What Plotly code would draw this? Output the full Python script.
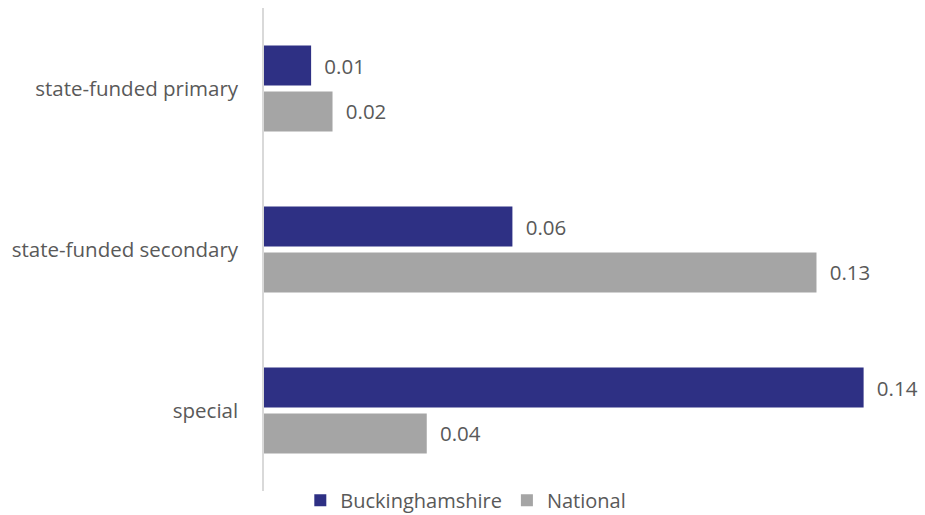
import plotly.graph_objects as go

categories = ["state-funded primary", "state-funded secondary", "special"]
bucks = [0.011, 0.058, 0.140]
national = [0.016, 0.129, 0.038]
series_names = ["Buckinghamshire", "National"]
colors = ["#2E3084", "#A5A5A5"]

FONT = "Open Sans"
pad = "\u2002"
fig = go.Figure()
for name, vals, col in zip(series_names, [bucks, national], colors):
    fig.add_trace(go.Bar(
        y=categories, x=vals, name=name, orientation="h",
        marker=dict(color=col, line=dict(width=0)),
        text=[pad + f"{v:.2f}" for v in vals],
        textposition="outside", cliponaxis=False,
        textfont=dict(size=20.5, color="#595959", family=FONT),
    ))

fig.update_layout(
    width=925, height=515,
    margin=dict(l=264, r=10, t=8, b=24, autoexpand=False),
    paper_bgcolor="white", plot_bgcolor="white",
    barmode="group", bargap=0.43, bargroupgap=0.13,
    font=dict(family=FONT, size=20, color="#595959"),
    showlegend=True,
    legend=dict(orientation="h", x=0.31, xanchor="center", y=-0.019, yanchor="middle",
                font=dict(size=20, color="#595959", family=FONT), itemwidth=30,
                bgcolor="rgba(0,0,0,0)"),
    xaxis=dict(range=[0, 0.152], showgrid=False, showticklabels=False, zeroline=False,
               showline=False, fixedrange=True),
    yaxis=dict(autorange="reversed", showgrid=False, showline=True, linecolor="#D9D9D9",
               linewidth=1.5, ticks="", ticklabelstandoff=20,
               tickfont=dict(size=20.5, color="#595959", family=FONT)),
)
fig.write_html("out.html")
